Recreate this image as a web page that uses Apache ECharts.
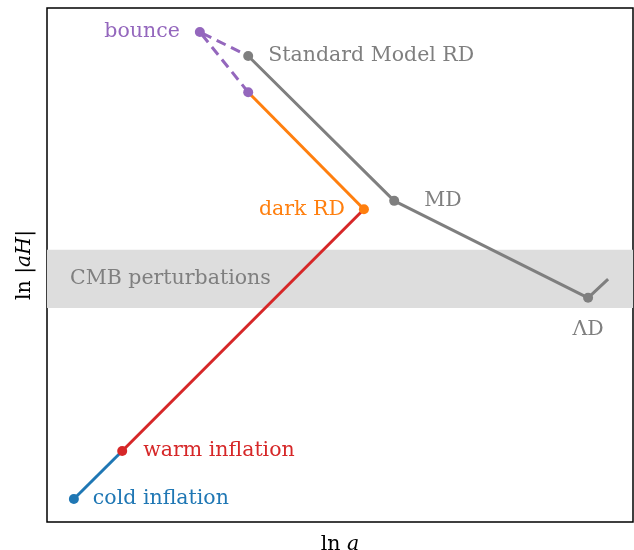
<!DOCTYPE html>
<html>
<head>
<meta charset="utf-8">
<script src="https://cdn.jsdelivr.net/npm/echarts@6/dist/echarts.min.js"></script>
<style>
  html, body { margin: 0; padding: 0; background: #fff; }
  #main { width: 634px; height: 550px; }
</style>
</head>
<body>
<div id="main"></div>
<script>
  // stage points in (ln a, ln|aH|), arbitrary units
  var coldInflation = [0.55, 0.47];
  var warmInflation = [1.54, 1.45];
  var darkRD = [6.49, 6.39];
  var darkRDStart = [4.12, 8.78];
  var bounce = [3.13, 10.01];
  var smRD = [4.12, 9.52];
  var matterDom = [7.11, 6.56];
  var lambdaDom = [11.08, 4.58];
  var lambdaEnd = [11.49, 4.96];
  var cmbBand = [4.37, 5.56];

  var labelNames = ['cold inflation', 'warm inflation', 'dark RD', 'bounce', 'Standard Model RD', 'MD', 'ΛD', 'CMB perturbations'];

  var FONT = 'DejaVu Serif';
  var FS = 20.5;
  var blue = '#1f77b4', red = '#d62728', orange = '#ff7f0e', purple = '#9467bd', gray = '#7f7f7f';

  function pt(v, color, label) {
    var item = { value: v, symbol: 'circle', symbolSize: 10, itemStyle: { color: color } };
    if (label) {
      item.label = Object.assign({ show: true, color: color, fontFamily: FONT, fontSize: FS }, label);
    }
    return item;
  }
  function nopt(v) {
    return { value: v, symbol: 'none' };
  }
  function seg(name, color, data, z, dashed) {
    return {
      name: name, type: 'line', data: data, z: z,
      lineStyle: { color: color, width: 3, type: dashed ? [10, 6] : 'solid' },
      itemStyle: { color: color },
      emphasis: { disabled: true },
      animation: false
    };
  }

  var myChart = echarts.init(document.getElementById('main'));
  myChart.setOption({
    animation: false,
    grid: {
      left: 47, right: 1, top: 8, bottom: 28, outerBoundsMode: 'none', containLabel: false,
      show: true, borderColor: '#000', borderWidth: 1.5, backgroundColor: 'transparent'
    },
    xAxis: {
      type: 'value', min: 0, max: 12,
      axisLine: { show: false }, axisTick: { show: false }, axisLabel: { show: false }, splitLine: { show: false },
      name: '{n|ln }{i|a}', nameLocation: 'middle', nameGap: 12,
      nameTextStyle: { rich: {
        n: { fontFamily: FONT, fontSize: FS, color: '#000' },
        i: { fontFamily: FONT, fontSize: FS, fontStyle: 'italic', color: '#000' }
      } }
    },
    yAxis: {
      type: 'value', min: 0, max: 10.5,
      axisLine: { show: false }, axisTick: { show: false }, axisLabel: { show: false }, splitLine: { show: false },
      name: '{n|ln |}{i|aH}{n||}', nameLocation: 'middle', nameGap: 12,
      nameTextStyle: { rich: {
        n: { fontFamily: FONT, fontSize: FS, color: '#000' },
        i: { fontFamily: FONT, fontSize: FS, fontStyle: 'italic', color: '#000' }
      } }
    },
    series: [
      {
        name: 'CMB', type: 'line', data: [], z: 0, silent: true,
        markArea: {
          silent: true,
          itemStyle: { color: '#dddddd' },
          label: { show: true, position: 'insideLeft', distance: 23, color: gray, fontFamily: FONT, fontSize: FS, formatter: labelNames[7] },
          data: [[{ yAxis: cmbBand[0], xAxis: 0 }, { yAxis: cmbBand[1], xAxis: 12 }]]
        }
      },
      seg('cold', blue, [
        pt(coldInflation, blue, { position: 'right', distance: 14, formatter: labelNames[0] }),
        nopt(warmInflation)
      ], 2),
      seg('warm', red, [
        pt(warmInflation, red, { position: 'right', distance: 16, formatter: labelNames[1] }),
        nopt(darkRD)
      ], 3),
      seg('dark', orange, [
        pt(darkRD, orange, { position: 'left', distance: 14, formatter: labelNames[2] }),
        nopt(darkRDStart)
      ], 4),
      seg('bounce', purple, [
        pt(darkRDStart, purple),
        pt(bounce, purple, { position: 'left', distance: 15, formatter: labelNames[3] }),
        nopt(smRD)
      ], 5, true),
      seg('SM', gray, [
        pt(smRD, gray, { position: 'right', distance: 15, formatter: labelNames[4] }),
        pt(matterDom, gray, { position: 'right', distance: 25, formatter: labelNames[5] }),
        pt(lambdaDom, gray, { position: 'bottom', distance: 16, formatter: labelNames[6] }),
        nopt(lambdaEnd)
      ], 6)
    ]
  });
</script>
</body>
</html>
